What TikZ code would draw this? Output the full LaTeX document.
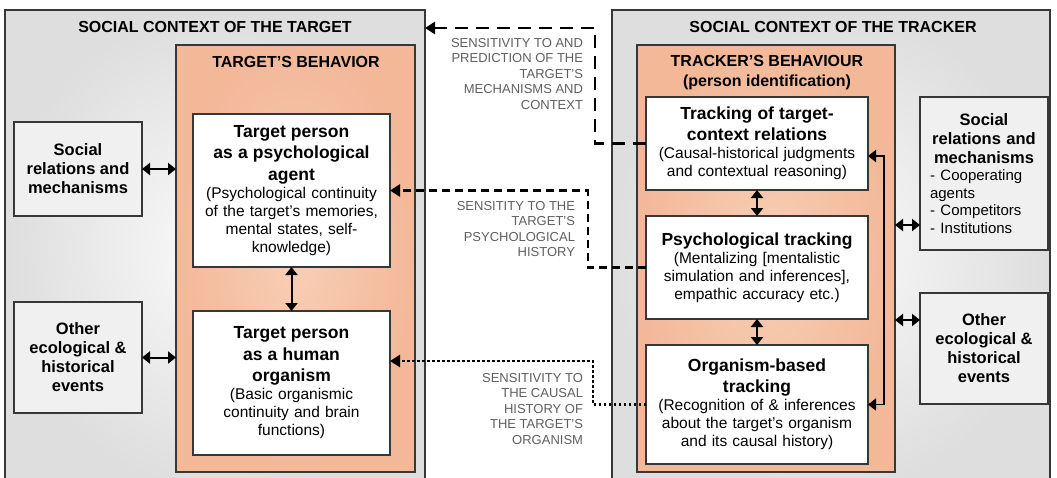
\documentclass[tikz,border=0pt]{standalone}
\usepackage{fontspec}
\setmainfont{Liberation Sans}
\usetikzlibrary{arrows.meta,positioning,calc}

\definecolor{peach}{RGB}{242,184,152}
\definecolor{peachlight}{RGB}{249,206,182}
\definecolor{frame}{RGB}{55,55,55}
\definecolor{sensgray}{RGB}{95,95,95}
\definecolor{sidegray}{RGB}{240,240,240}
\setlength{\parindent}{0pt}

\newcommand{\boxhead}[1]{{\fontsize{17.5}{21.5}\selectfont\bfseries #1\par}}

\begin{document}
\begin{tikzpicture}[
    x=1pt, y=-1pt,
    every node/.style={inner sep=0pt, outer sep=0pt},
    ctxbox/.style={draw=frame, line width=1.5pt, shading=radial, inner color=gray!4, outer color=gray!26, anchor=north west},
    behbox/.style={draw=frame, line width=1.5pt, shading=radial, inner color=peachlight, outer color=peach, anchor=north west},
    whitebox/.style={draw=frame, line width=1.5pt, fill=white, align=center, text width=#1, inner xsep=6pt, anchor=north west, font=\fontsize{15.5}{18}\selectfont},
    sidebox/.style={draw=frame, line width=1.5pt, fill=sidegray, minimum width=128pt, align=center, anchor=north west, font=\fontsize{16.5}{19}\selectfont\bfseries},
    boxtitle/.style={font=\fontsize{16}{20}\selectfont\bfseries, align=center},
    senslabel/.style={font=\fontsize{13}{15.5}\selectfont, text=sensgray, align=right, anchor=east},
    dblarrow/.style={{Triangle[length=8pt,width=12pt]}-{Triangle[length=8pt,width=12pt]}, line width=2pt},
    feedback/.style={-{Triangle[length=10pt,width=12pt]}, line width=2.5pt}
]
\clip (0,0) rectangle (1057,477);

% social contexts
\node[ctxbox, minimum width=420pt, minimum height=480pt] (tctx) at (5,10) {};
\node[ctxbox, minimum width=438pt, minimum height=480pt] (kctx) at (612,10) {};
\node[boxtitle] (tctxtitle) at (215,27) {SOCIAL CONTEXT OF THE TARGET};
\node[boxtitle] (kctxtitle) at (833,27) {SOCIAL CONTEXT OF THE TRACKER};

% behaviour boxes
\node[behbox, minimum width=239pt, minimum height=427pt] (tbeh) at (176,45) {};
\node[behbox, minimum width=258pt, minimum height=427pt] (kbeh) at (637,45) {};
\node[boxtitle] (tbehtitle) at (296,62) {TARGET'S BEHAVIOR};
\node[boxtitle] (kbehtitle) at (767,73) {TRACKER'S BEHAVIOUR\\(person identification)};

% target side
\node[whitebox=185pt, minimum height=153pt] (agent) at (193,114)
    {\boxhead{Target person\\as a psychological\\agent}(Psychological continuity\\of the target's memories,\\mental states, self-\\knowledge)};
\node[whitebox=185pt, minimum height=144pt] (organism) at (193,311)
    {\boxhead{Target person\\as a human\\organism}(Basic organismic\\continuity and brain\\functions)};
\node[sidebox, minimum height=94pt] (lsoc) at (14,122) {Social\\relations and\\mechanisms};
\node[sidebox, minimum height=111pt] (leco) at (14,302) {Other\\ecological \&\\historical\\events};

% tracker side
\node[whitebox=210pt, minimum height=93pt] (trel) at (646,97)
    {\boxhead{Tracking of target-\\context relations}(Causal-historical judgments\\and contextual reasoning)};
\node[whitebox=210pt, minimum height=103pt] (tpsy) at (646,216)
    {\boxhead{Psychological tracking}(Mentalizing [mentalistic\\simulation and inferences],\\empathic accuracy etc.)};
\node[whitebox=210pt, minimum height=119pt] (torg) at (646,345)
    {\boxhead{Organism-based\\tracking}(Recognition of \& inferences\\about the target's organism\\and its causal history)};
\node[sidebox, minimum height=153pt, text width=108pt, inner xsep=10pt] (rsoc) at (920,97)
    {Social\\relations and\\mechanisms\par
     {\mdseries\raggedright\fontsize{15}{17.5}\selectfont - Cooperating\\agents\\- Competitors\\- Institutions\par}};
\node[sidebox, minimum height=111pt] (reco) at (920,293) {Other\\ecological \&\\historical\\events};

% two-way links
\draw[dblarrow] (lsoc) -- (lsoc -| tbeh.west);
\draw[dblarrow] (leco) -- (leco -| tbeh.west);
\draw[dblarrow] (agent) -- (organism);
\draw[dblarrow] (trel) -- (tpsy);
\draw[dblarrow] (tpsy) -- (torg);
\coordinate (rs) at (907,225);
\coordinate (re) at (907,320);
\draw[dblarrow] (kbeh.east |- rs) -- (rsoc.west |- rs);
\draw[dblarrow] (kbeh.east |- re) -- (reco.west |- re);
\coordinate (loop) at (884,156);
\draw[dblarrow, line width=1.8pt] (trel.east |- loop) -- (loop) |- (torg.east);

% sensitivity links
\coordinate (f1) at (595,28);
\coordinate (f2) at (588,190);
\coordinate (f3) at (593,361);
\draw[feedback, dash pattern=on 13pt off 8pt] (trel.west) -- (trel.west -| f1) |- (tctx.east |- f1);
\draw[feedback, dash pattern=on 8pt off 5pt] (tpsy.west) -- (tpsy.west -| f2) |- (agent.east);
\draw[feedback, dash pattern=on 2.5pt off 2.5pt] (torg.west) -- (torg.west -| f3) |- (organism.east |- f3);

\node[senslabel] (s1) at (583,74) {SENSITIVITY TO AND\\PREDICTION OF THE\\TARGET'S\\MECHANISMS AND\\CONTEXT};
\node[senslabel] (s2) at (575,229) {SENSITITY TO THE\\TARGET'S\\PSYCHOLOGICAL\\HISTORY};
\node[senslabel] (s3) at (583,409) {SENSITIVITY TO\\THE CAUSAL\\HISTORY OF\\THE TARGET'S\\ORGANISM};
\end{tikzpicture}
\end{document}
